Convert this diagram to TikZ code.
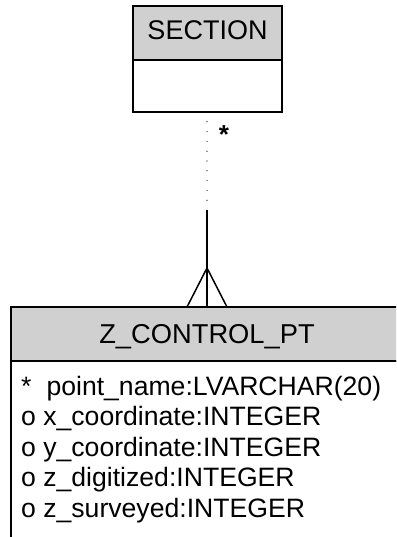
\documentclass[tikz,border=0pt]{standalone}
\usepackage{fontspec}
\setmainfont{Liberation Sans}
\definecolor{hdrgray}{RGB}{208,208,208}
\begin{document}
\begin{tikzpicture}[x=1pt,y=-1pt,
  boxline/.style={line width=1.6pt,draw=black},
  hdr/.style={fill=hdrgray},
  ttl/.style={font=\fontsize{27}{31}\selectfont,anchor=base,inner sep=0pt},
  fld/.style={font=\fontsize{26.6}{31}\selectfont,anchor=base west,inner sep=0pt},
  conn/.style={line width=1.5pt}]
\useasboundingbox (0,0) rectangle (396,537);
\clip (0,0) rectangle (396,537);
% SECTION entity
\filldraw[boxline,hdr] (133,6) rectangle (282,60);
\draw[boxline] (133,60) rectangle (282,112);
\node[ttl] (sec) at (207.5,40) {SECTION};
% Z_CONTROL_PT entity
\filldraw[boxline,hdr] (11,307) rectangle (401,361);
\draw[boxline] (11,361) rectangle (401,545);
\node[ttl,font=\fontsize{27.3}{31}\selectfont] (zc) at (207,343) {Z\_CONTROL\_PT};
\node[fld] (f1) at (21,395) {*\hspace{15pt}point\_name:LVARCHAR(20)};
\node[fld] (f2) at (21,425.5) {o x\_coordinate:INTEGER};
\node[fld] (f3) at (21,456) {o y\_coordinate:INTEGER};
\node[fld] (f4) at (21,486.5) {o z\_digitized:INTEGER};
\node[fld] (f5) at (21,517) {o z\_surveyed:INTEGER};
% connector
\coordinate (top) at (207,112);
\coordinate (dotend) at (207,202);
\coordinate (solstart) at (207,210);
\coordinate (bot) at (207,307);
\coordinate (crow) at (207,268);
\coordinate (footl) at (187,307);
\coordinate (footr) at (227,307);
\draw[line width=1.2pt,line cap=round,dash pattern=on 0pt off 9.8pt] (top) -- (dotend);
\draw[conn] (solstart) -- (bot);
\draw[conn] (footl) -- (crow) -- (footr);
\node[font=\fontsize{26}{30}\selectfont\bfseries,inner sep=0pt] (mult) at (224,135) {*};
\end{tikzpicture}
\end{document}
